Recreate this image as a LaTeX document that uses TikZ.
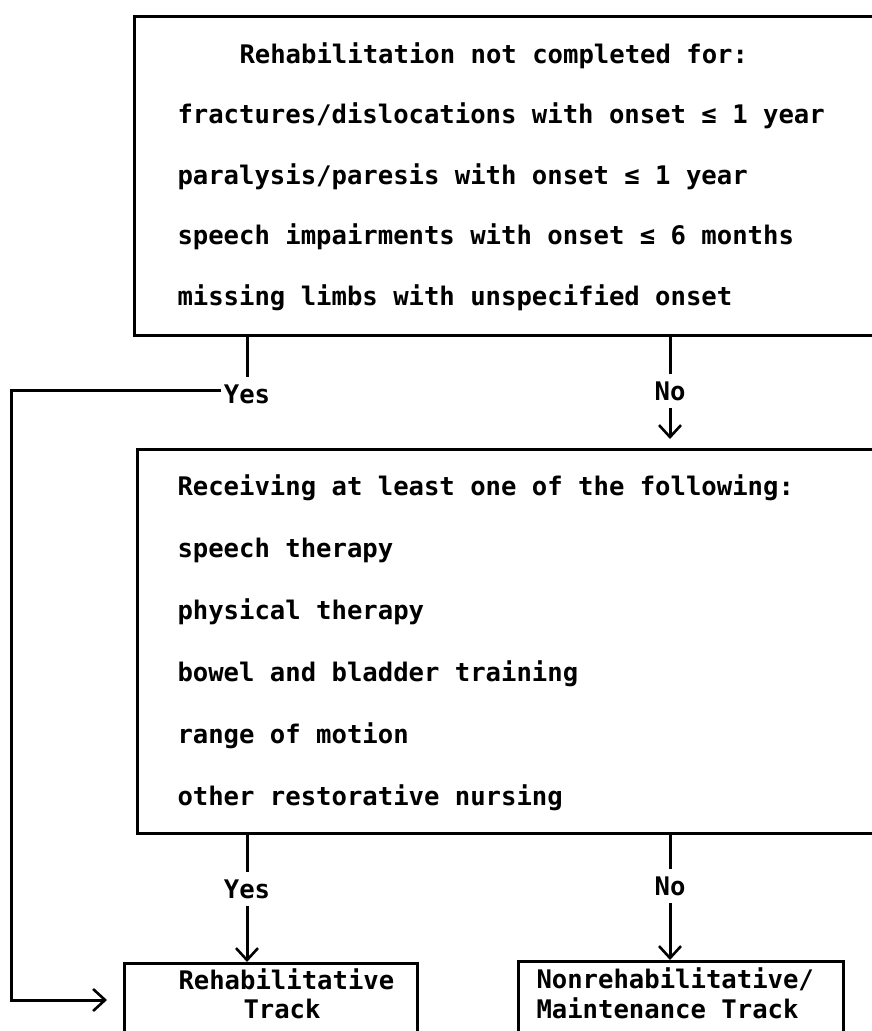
\documentclass[tikz,border=0pt]{standalone}
\usepackage{fontspec}
\setmonofont{DejaVu Sans Mono}
\usetikzlibrary{arrows.meta}
\newcommand{\tyfont}{\ttfamily\bfseries\fontsize{25.6}{29}\selectfont}

\begin{document}
\begin{tikzpicture}[x=1pt,y=-1pt,line width=3pt,
    >={Straight Barb[length=12pt,width=22pt,line width=2.6pt]},
    box/.style={draw,rectangle,anchor=north west,inner sep=0pt},
    txt/.style={anchor=base west,inner sep=0pt,font=\tyfont},
    lbl/.style={anchor=base,inner xsep=1pt,inner ysep=6pt,font=\tyfont}]
  \useasboundingbox (0,0) rectangle (872,1031);
  \clip (0,0) rectangle (872,1031);

  % boxes (open past the right and lower edge)
  \node[box,minimum width=767pt,minimum height=319pt] (crit) at (133,15) {};
  \node[box,minimum width=764pt,minimum height=384pt] (recv) at (136,448) {};
  \node[box,minimum width=293pt,minimum height=100pt] (rehab) at (123,962) {};
  \node[box,minimum width=325pt,minimum height=100pt] (maint) at (517,960) {};

  % first box text
  \node[txt] (crit0) at (238,63) {Rehabilitation not completed for:};
  \foreach \ln [count=\i] in {{fractures/dislocations with onset ≤ 1 year},
      {paralysis/paresis with onset ≤ 1 year},
      {speech impairments with onset ≤ 6 months},
      {missing limbs with unspecified onset}}
    \node[txt] (crit\i) at (176,{63+60.5*\i}) {\ln};

  % second box text
  \foreach \ln [count=\i from 0] in {{Receiving at least one of the following:},
      {speech therapy},{physical therapy},{bowel and bladder training},
      {range of motion},{other restorative nursing}}
    \node[txt] (recv\i) at (176,{495+62*\i}) {\ln};

  % track boxes text
  \node[txt] (rehab1) at (177,989) {Rehabilitative};
  \node[txt] (rehab2) at (242,1018) {Track};
  \node[txt] (maint1) at (535,988) {Nonrehabilitative/};
  \node[txt] (maint2) at (535,1018) {Maintenance Track};

  % branch labels
  \node[lbl] (yesA) at (247,403) {Yes};
  \node[lbl] (noA) at (670,400) {No};
  \node[lbl] (yesB) at (247,898) {Yes};
  \node[lbl] (noB) at (670,895) {No};

  \coordinate (corner) at (11,390);
  \coordinate (turn) at (11,1000);

  \draw (crit.south -| yesA) -- (yesA);
  \draw[->,shorten >=16pt] (yesA.west |- corner) -- (corner) -- (turn) -- (turn -| rehab.west);
  \draw (crit.south -| noA) -- (noA);
  \draw[->,shorten >=9pt] (noA) -- (recv.north -| noA);

  \draw (recv.south -| yesB) -- (yesB);
  \draw[->] (yesB) -- (rehab.north -| yesB);
  \draw (recv.south -| noB) -- (noB);
  \draw[->] (noB) -- (maint.north -| noB);
\end{tikzpicture}
\end{document}
